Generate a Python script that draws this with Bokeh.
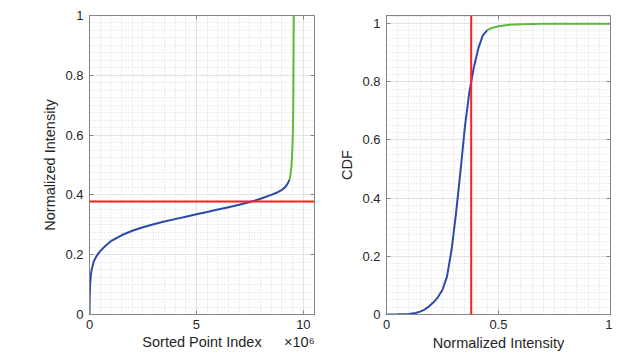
import numpy as np
from bokeh.plotting import figure
from bokeh.layouts import row
from bokeh.models import (FixedTicker, NumeralTickFormatter, LinearAxis, Span, Range1d,
                          CustomJSTickFormatter)
from bokeh.embed import file_html
from bokeh.resources import INLINE

# ---------------- data ----------------
threshold = 0.378

# left: sorted intensities (index in units of 1e6)
sorted_idx_blue = [0, 0.01, 0.03, 0.06, 0.1, 0.2, 0.35, 0.5, 0.75, 1.0, 1.5, 2.0, 2.5, 3.0, 3.5, 4.0, 4.5,
                   5.0, 5.5, 6.0, 6.5, 7.0, 7.5, 8.0, 8.5, 8.8, 9.0, 9.15, 9.25, 9.35]
sorted_int_blue = [0.0, 0.06, 0.10, 0.13, 0.15, 0.178, 0.198, 0.212, 0.23, 0.245, 0.265, 0.28, 0.292,
                   0.302, 0.311, 0.319, 0.327, 0.335, 0.343, 0.351, 0.359, 0.367, 0.376, 0.387, 0.40,
                   0.409, 0.417, 0.426, 0.436, 0.45]
sorted_idx_green = [9.35, 9.40, 9.44, 9.47, 9.50, 9.515, 9.53, 9.54, 9.55]
sorted_int_green = [0.45, 0.47, 0.495, 0.53, 0.58, 0.64, 0.72, 0.85, 1.0]

# right: CDF of normalized intensity
cdf_x_blue = [0, 0.05, 0.1, 0.13, 0.15, 0.17, 0.19, 0.21, 0.23, 0.25, 0.27, 0.29, 0.31, 0.33,
              0.35, 0.37, 0.39, 0.41, 0.43, 0.45]
cdf_y_blue = [0, 0.0005, 0.002, 0.005, 0.01, 0.017, 0.028, 0.042, 0.06, 0.085, 0.13, 0.22, 0.345, 0.49,
              0.645, 0.765, 0.85, 0.915, 0.96, 0.978]
cdf_x_green = [0.45, 0.47, 0.5, 0.55, 0.6, 0.65, 0.7, 0.8, 1.0]
cdf_y_green = [0.978, 0.985, 0.991, 0.996, 0.998, 0.999, 1.0, 1.0, 1.0]

left_xticks = [0, 5, 10]
yticks = [0, 0.2, 0.4, 0.6, 0.8, 1]
right_xticks = [0, 0.5, 1]
left_xlabel = "Sorted Point Index"
exponent_label = "×10⁶"
left_xmax = 10.52

# ---------------- style ----------------
FONT = "Liberation Sans"
TXT = "#262626"
AX = "#858585"
BLUE = "#2c4ba8"
GREEN = "#62b83c"
RED = "#ff1f1f"


def box_axis(ticks):
    return LinearAxis(ticker=FixedTicker(ticks=ticks),
                      formatter=CustomJSTickFormatter(code="return ''"),
                      axis_line_color=AX, major_tick_line_color=AX,
                      major_tick_in=4, major_tick_out=0, minor_tick_in=0, minor_tick_out=0,
                      major_label_standoff=0, major_label_text_font_size="1px")


def make(xr, yr, xt, xminor, yt, yminor, xfmt, yfmt, xlabel, ylabel, fw, bl, br):
    p = figure(frame_width=fw, frame_height=299, output_backend="svg", toolbar_location=None,
               x_range=xr, y_range=yr, y_axis_label=ylabel,
               min_border_left=bl, min_border_right=br, min_border_top=15, min_border_bottom=30)
    xa = p.below[0]
    ya = p.left[0]
    if xlabel:
        xa.axis_label = xlabel
    xa.ticker = FixedTicker(ticks=xt, minor_ticks=xminor)
    ya.ticker = FixedTicker(ticks=yt, minor_ticks=yminor)
    xa.formatter = NumeralTickFormatter(format=xfmt)
    ya.formatter = NumeralTickFormatter(format=yfmt)
    for ax in (xa, ya):
        ax.axis_line_color = AX
        ax.major_tick_line_color = AX
        ax.major_tick_in = 4
        ax.major_tick_out = 0
        ax.minor_tick_in = 0
        ax.minor_tick_out = 0
        ax.major_label_text_font = FONT
        ax.major_label_text_font_size = "13px"
        ax.major_label_text_color = TXT
        ax.axis_label_text_font = FONT
        ax.axis_label_text_font_size = "14.5px"
        ax.axis_label_text_font_style = "normal"
        ax.axis_label_text_color = TXT
    xa.major_label_standoff = 5
    xa.axis_label_standoff = 3
    ya.major_label_standoff = 6
    ya.axis_label_standoff = 4
    for g in (p.xgrid[0], p.ygrid[0]):
        g.grid_line_color = "#e3e3e3"
        g.grid_line_width = 1
        g.minor_grid_line_color = "#d9d9d9"
        g.minor_grid_line_dash = "1 2"
        g.minor_grid_line_width = 1
    p.add_layout(box_axis(xt), "above")
    p.add_layout(box_axis(yt), "right")
    p.outline_line_color = AX
    return p


# ---------------- left figure ----------------
p1 = make(Range1d(0, left_xmax), Range1d(0, 1), left_xticks, list(np.arange(0, 10.51, 0.5)),
          yticks, list(np.arange(0, 1.001, 0.025)), "0", "0.[0]",
          None, "Normalized Intensity", 225, 89, 10)
p1.line(sorted_idx_blue, sorted_int_blue, line_color=BLUE, line_width=2)
p1.line(sorted_idx_green, sorted_int_green, line_color=GREEN, line_width=2)
p1.add_layout(Span(location=threshold, dimension="width", line_color=RED, line_width=2))

# second row under the tick labels: axis title (centered) and the exponent on one line
label_pos = [left_xmax / 2, 9.81]
label_axis = LinearAxis(ticker=FixedTicker(ticks=label_pos, minor_ticks=[]),
                        major_label_overrides={label_pos[0]: left_xlabel, label_pos[1]: exponent_label},
                        axis_line_color=None, major_tick_line_color=None,
                        major_tick_in=0, major_tick_out=0, minor_tick_in=0, minor_tick_out=0,
                        major_label_standoff=2, major_label_text_font=FONT,
                        major_label_text_font_size="14.5px", major_label_text_color=TXT)
p1.add_layout(label_axis, "below")

# ---------------- right figure ----------------
p2 = make(Range1d(0, 1), Range1d(0, 1.028), right_xticks, list(np.arange(0, 1.001, 0.05)),
          yticks, list(np.arange(0, 1.03, 0.025)), "0.[0]", "0.[0]",
          "Normalized Intensity", "CDF", 224, 62, 2)
p2.line(cdf_x_blue, cdf_y_blue, line_color=BLUE, line_width=2)
p2.line(cdf_x_green, cdf_y_green, line_color=GREEN, line_width=2)
p2.add_layout(Span(location=threshold, dimension="height", line_color=RED, line_width=2))

layout = row(p1, p2)
open("out.html", "w").write(file_html(layout, INLINE))
